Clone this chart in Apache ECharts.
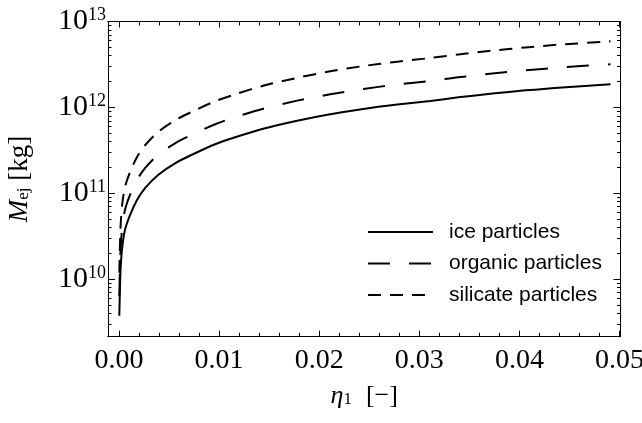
<!DOCTYPE html>
<html>
<head>
<meta charset="utf-8">
<script src="https://cdn.jsdelivr.net/npm/echarts@6/dist/echarts.min.js"></script>
<style>html,body{margin:0;padding:0;background:#fff}#c{width:642px;height:423px}</style>
</head>
<body>
<div id="c"></div>
<script>
// ---- data ----
const eta = [0.00003, 0.0001, 0.00017, 0.00033, 0.0006, 0.0011, 0.0018, 0.0026, 0.0039, 0.0056, 0.0076, 0.0096, 0.0116, 0.0144, 0.0178, 0.0211, 0.0244, 0.0278, 0.0311, 0.0339, 0.0373, 0.0406, 0.0439, 0.0491];
const iceM = [3.77e9, 8.2e9, 1.41e10, 2.4e10, 3.77e10, 5.6e10, 8.4e10, 1.15e11, 1.64e11, 2.24e11, 2.93e11, 3.73e11, 4.5e11, 5.65e11, 7.0e11, 8.32e11, 9.6e11, 1.08e12, 1.19e12, 1.31e12, 1.45e12, 1.58e12, 1.70e12, 1.86e12];
const organicM = [6.4e9, 1.4e10, 2.41e10, 4.1e10, 6.45e10, 9.6e10, 1.44e11, 1.97e11, 2.8e11, 3.83e11, 5.0e11, 6.38e11, 7.7e11, 9.66e11, 1.2e12, 1.42e12, 1.64e12, 1.85e12, 2.03e12, 2.24e12, 2.48e12, 2.7e12, 2.91e12, 3.18e12];
const silicateM = [1.19e10, 2.59e10, 4.46e10, 7.6e10, 1.19e11, 1.77e11, 2.65e11, 3.63e11, 5.18e11, 7.08e11, 9.26e11, 1.18e12, 1.42e12, 1.79e12, 2.21e12, 2.63e12, 3.03e12, 3.41e12, 3.76e12, 4.14e12, 4.58e12, 4.99e12, 5.37e12, 5.88e12];
const seriesNames = ['ice particles', 'organic particles', 'silicate particles'];
const xMajorTicks = [0, 0.01, 0.02, 0.03, 0.04, 0.05];
const xMinorTicks = [0.002, 0.004, 0.006, 0.008, 0.012, 0.014, 0.016, 0.018, 0.022, 0.024, 0.026, 0.028, 0.032, 0.034, 0.036, 0.038, 0.042, 0.044, 0.046, 0.048];
const yMajorTicks = [1e10, 1e11, 1e12, 1e13];
const yMinorTicks = [3e9, 4e9, 5e9, 6e9, 7e9, 8e9, 9e9, 2e10, 3e10, 4e10, 5e10, 6e10, 7e10, 8e10, 9e10, 2e11, 3e11, 4e11, 5e11, 6e11, 7e11, 8e11, 9e11, 2e12, 3e12, 4e12, 5e12, 6e12, 7e12, 8e12, 9e12];
const xRange = [-0.0011, 0.0501];
const yRange = [2.15e9, 1e13];

// ---- chart ----
const chart = echarts.init(document.getElementById('c'), null, {renderer: 'canvas'});
const serif = 'Liberation Serif';
const black = '#000';
const clear = 'rgba(0,0,0,0)';

function xAx(pos, ticks, len, showLabel, extra) {
  return Object.assign({
    type: 'value', position: pos, min: xRange[0], max: xRange[1],
    axisLine: {show: true, onZero: false, lineStyle: {color: black, width: 1}},
    axisTick: {show: true, inside: true, length: len, customValues: ticks, lineStyle: {color: black, width: 1}},
    axisLabel: showLabel ? {
      show: true, customValues: ticks, margin: 10, color: black,
      fontFamily: serif, fontSize: 28,
      formatter: v => v.toFixed(2)
    } : {show: false},
    splitLine: {show: false}
  }, extra || {});
}
function yAx(pos, ticks, len, showLabel, extra) {
  return Object.assign({
    type: 'log', logBase: 10, position: pos, min: yRange[0], max: yRange[1],
    axisLine: {show: true, onZero: false, lineStyle: {color: black, width: 1}},
    axisTick: {show: true, inside: true, length: len, customValues: ticks, lineStyle: {color: black, width: 1}},
    axisLabel: showLabel ? {
      show: true, customValues: ticks, margin: 2, color: black,
      formatter: v => '{b|10}{s|' + Math.round(Math.log10(v)) + '}',
      rich: {
        b: {fontFamily: serif, fontSize: 30, color: black},
        s: {fontFamily: serif, fontSize: 18, color: black, padding: [0, 0, 12, 0]}
      }
    } : {show: false},
    splitLine: {show: false},
    minorTick: {show: false}
  }, extra || {});
}

const option = {
  animation: false,
  backgroundColor: '#fff',
  grid: {left: 108, top: 21.5, right: 21.5, bottom: 86.3, containLabel: false, outerBoundsMode: 'none'},
  xAxis: [
    xAx('bottom', xMajorTicks, 6, true, {
      name: '{i|η}{sub|1}{s| }[−]', nameLocation: 'middle', nameGap: 46,
      nameTextStyle: {
        fontFamily: serif, fontSize: 26, color: black,
        rich: {
          i: {fontFamily: serif, fontStyle: 'italic', fontSize: 26, color: black},
          sub: {fontFamily: serif, fontSize: 17, color: black, padding: [8, 0, 0, 0]},
          s: {fontFamily: serif, fontSize: 26, width: 14}
        }
      }
    }),
    xAx('bottom', xMinorTicks, 4, false),
    xAx('top', xMajorTicks, 6, false),
    xAx('top', xMinorTicks, 4, false)
  ],
  yAxis: [
    yAx('left', yMajorTicks, 7, true, {
      name: '{i|M}{sub|ej} [kg]', nameLocation: 'middle', nameGap: 75, nameRotate: 90,
      nameTextStyle: {
        fontFamily: serif, fontSize: 27, color: black,
        rich: {
          i: {fontFamily: serif, fontStyle: 'italic', fontSize: 27, color: black},
          sub: {fontFamily: serif, fontSize: 17, color: black, padding: [8, 0, 0, 0]}
        }
      }
    }),
    yAx('left', yMinorTicks, 3.5, false),
    yAx('right', yMajorTicks, 7, false),
    yAx('right', yMinorTicks, 3.5, false)
  ],
  legend: {
    show: true, orient: 'vertical', left: 367, top: 221.5, padding: 0,
    itemWidth: 65, itemHeight: 21, itemGap: 10.5,
    data: seriesNames,
    itemStyle: {opacity: 0},
    textStyle: {fontFamily: 'Liberation Sans', fontSize: 21, color: black, lineHeight: 21, padding: [0, 0, 0, 11]}
  },
  series: [
    {name: seriesNames[0], type: 'line', data: eta.map((x, i) => [x, iceM[i]]), symbol: 'none', smooth: 0.3,
     lineStyle: {color: black, width: 2, type: 'solid'}, itemStyle: {color: clear}},
    {name: seriesNames[1], type: 'line', data: eta.map((x, i) => [x, organicM[i]]), symbol: 'none', smooth: 0.3,
     lineStyle: {color: black, width: 2, type: [22, 19]}, itemStyle: {color: clear}},
    {name: seriesNames[2], type: 'line', data: eta.map((x, i) => [x, silicateM[i]]), symbol: 'none', smooth: 0.3,
     lineStyle: {color: black, width: 2, type: [13, 9]}, itemStyle: {color: clear}}
  ]
};
chart.setOption(option);
</script>
</body>
</html>
